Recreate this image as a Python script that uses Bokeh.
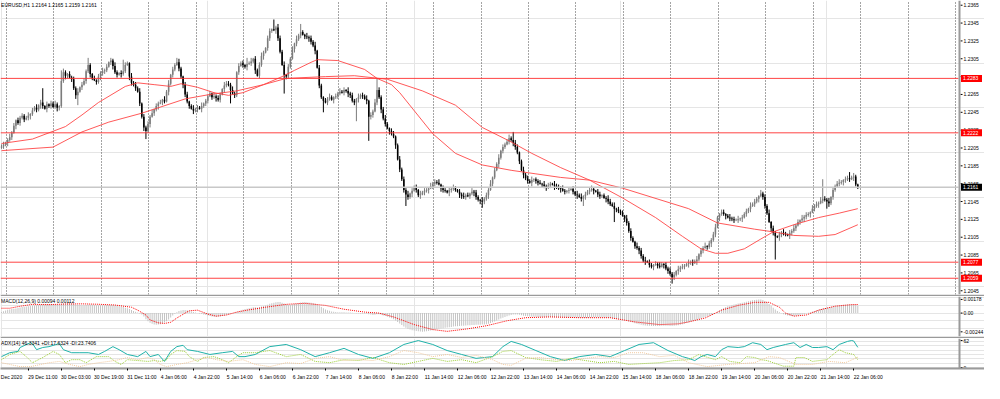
from bokeh.plotting import figure
from bokeh.layouts import column
from bokeh.models import (ColumnDataSource, LinearAxis, FixedTicker, Label, Span,
                          Grid, Range1d)
from bokeh.core.properties import value
from bokeh.embed import file_html
from bokeh.resources import INLINE

FONT = "Liberation Sans"
FS = "5px"

# ---------------- data (prices in pips above 1.2000) ----------------
BASE = 1.2
OPEN0 = 205
CLOSE_PIPS = [
    207, 209, 211, 214, 217, 222, 230, 236, 233, 239,
    241, 237, 239, 241, 243, 247, 250, 248, 253, 256,
    252, 249, 254, 252, 255, 251, 254, 250, 252, 280,
    290, 286, 288, 284, 282, 272, 264, 268, 273, 276,
    280, 291, 298, 288, 283, 281, 279, 285, 289, 291,
    292, 296, 301, 303, 297, 290, 287, 289, 288, 291,
    298, 300, 285, 278, 276, 272, 268, 255, 240, 228,
    224, 232, 240, 244, 248, 252, 255, 256, 259, 257,
    268, 277, 287, 293, 298, 301, 294, 285, 276, 265,
    257, 252, 249, 247, 248, 250, 249, 252, 255, 258,
    263, 266, 262, 263, 261, 259, 265, 271, 275, 277,
    276, 270, 266, 264, 290, 297, 300, 298, 296, 299,
    300, 302, 305, 292, 286, 298, 308, 312, 317, 328,
    336, 338, 337, 340, 328, 313, 298, 287, 285, 296,
    305, 316, 322, 327, 331, 335, 332, 330, 329, 328,
    324, 320, 314, 295, 275, 262, 258, 256, 260, 262,
    259, 262, 263, 266, 268, 267, 270, 269, 266, 264,
    258, 256, 260, 262, 264, 263, 260, 258, 240, 242,
    246, 256, 270, 262, 248, 238, 232, 227, 224, 221,
    218, 208, 192, 181, 170, 158, 153, 150, 154, 157,
    161, 158, 152, 153, 155, 157, 158, 160, 162, 165,
    167, 166, 164, 160, 158, 157, 155, 158, 159, 160,
    158, 156, 153, 151, 150, 152, 151, 154, 156, 155,
    150, 147, 146, 145, 148, 152, 158, 165, 172, 180,
    187, 194, 202, 206, 209, 212, 216, 214, 211, 206,
    200, 190, 180, 175, 171, 168, 166, 169, 170, 168,
    166, 165, 164, 162, 161, 163, 165, 164, 162, 161,
    160, 159, 157, 156, 157, 158, 159, 156, 153, 152,
    150, 148, 151, 153, 156, 158, 159, 157, 156, 153,
    151, 152, 149, 148, 145, 142, 140, 137, 136, 134,
    132, 129, 126, 121, 112, 104, 100, 95, 93, 90,
    84, 79, 78, 77, 74, 72, 74, 75, 73, 72,
    75, 74, 70, 67, 64, 60, 63, 67, 69, 71,
    72, 73, 75, 76, 77, 76, 78, 80, 86, 90,
    93, 95, 94, 98, 102, 108, 116, 127, 131, 133,
    131, 129, 127, 126, 125, 124, 124, 125, 126, 127,
    131, 134, 137, 140, 142, 145, 148, 151, 154, 150,
    140, 132, 122, 115, 110, 106, 105, 108, 110, 109,
    108, 107, 110, 112, 115, 118, 122, 124, 126, 128,
    130, 131, 133, 137, 140, 142, 143, 146, 148, 147,
    145, 143, 150, 158, 162, 165, 166, 167, 169, 170,
    171, 170, 172, 173, 164, 161,
]
UP_WICK_ROWS = [
    "2312423132", "3224132413", "2131324213", "4213232413", "3242131324",
    "2313242132", "3214232413", "2324132314", "2413234213", "3124232412",
    "2314232143", "3242132314", "2413234213", "3122432413", "2314232142",
    "3241321324", "2132423142", "3214232413", "2413234213", "3124232413",
    "2314232142", "3241321324", "2132423142", "3214232413", "2413234213",
    "3124232412", "2314232143", "3242132314", "2413234213", "3122432413",
    "2314232142", "3241321324", "2132423142", "3214232413", "2413234213",
    "3124232413", "2314232142", "3241321324", "2132423142", "3214232413",
    "2413234213", "312421",
]
LOW_WICK_ROWS = [
    "1324231423", "2313421324", "3142312432", "2431324213", "1324213243",
    "3213423142", "2143231324", "3241324132", "1423213243", "2314231423",
    "3132423142", "2413231324", "1324132413", "3214321432", "2143231324",
    "3241324132", "1423213243", "2314231423", "3132423142", "2413231324",
    "1324132413", "3214321432", "2143231324", "3241324132", "1423213243",
    "2314231423", "3132423142", "2413231324", "1324132413", "3214321432",
    "2143231324", "3241324132", "1423213243", "2314231423", "3132423142",
    "2413231324", "1324132413", "3214321432", "2143231324", "3241324132",
    "1423213243", "231422",
]
HIGH_SPIKES = {20: 272, 29: 292, 42: 306, 59: 304, 85: 306, 119: 306, 132: 349,
               145: 344, 182: 283, 248: 223, 398: 170, 411: 178}
LOW_SPIKES = {37: 253, 70: 215, 111: 255, 137: 266, 156: 245, 172: 235, 178: 213,
              196: 140, 233: 138, 282: 140, 297: 122, 325: 53, 375: 80, 400: 137}

FAST_MA_BARS = [0, 15, 31, 39, 47, 60, 66, 74, 82, 87, 95, 103, 110, 117, 127, 136, 142, 150,
                153, 163, 176, 182, 189, 193, 209, 220, 233, 247, 259, 271, 285, 301, 317,
                330, 339, 346, 352, 360, 368, 374, 384, 396, 406, 415]
FAST_MA_PIPS = [210, 215, 229, 242, 256, 274, 278, 276, 274, 277, 273, 267, 264, 267, 276, 285,
                292, 301, 304, 303, 293, 283, 276, 267, 221, 199, 186, 180, 176, 172, 169, 149,
                127, 106, 92, 87, 87, 92, 103, 111, 119, 127, 132, 137]
SLOW_MA_BARS = [0, 25, 39, 52, 68, 89, 101, 114, 127, 138, 157, 171, 187, 204, 220, 233, 246,
                257, 271, 285, 301, 333, 347, 365, 374, 384, 396, 404, 415]
SLOW_MA_PIPS = [202, 206, 223, 234, 244, 260, 265, 269, 276, 283, 285, 286, 282, 269, 253, 228,
                213, 199, 183, 169, 160, 137, 121, 114, 111, 107, 106, 108, 119]

LEVELS = [1.2283, 1.2222, 1.2077, 1.2059]
BID = 1.2161
PRICE_TICKS = [1.2045, 1.2065, 1.2085, 1.2105, 1.2125, 1.2145, 1.2165, 1.2185, 1.2205,
               1.2225, 1.2245, 1.2265, 1.2285, 1.2305, 1.2325, 1.2345, 1.2365]
MACD_TICKS = [0.00178, 0.0, -0.00244]
MACD_TICK_TEXT = ["0.00178", "0.00", "-0.00244"]
ADX_TICKS = [62, 0]
ADX_TICK_TEXT = ["62", "0"]

MACD_MAIN = [
    15, 25, 35, 42, 48, 52, 56, 60, 66, 72,
    78, 82, 85, 88, 92, 96, 100, 103, 106, 110,
    112, 113, 114, 114, 115, 114, 113, 112, 110, 118,
    124, 126, 127, 126, 124, 118, 110, 106, 104, 103,
    103, 106, 110, 110, 108, 105, 102, 101, 101, 102,
    103, 104, 106, 106, 104, 100, 95, 90, 85, 80,
    70, 62, 52, 40, 28, 16, 6, -4, -20, -45,
    -80, -105, -125, -140, -150, -152, -150, -145, -135, -122,
    -105, -82, -58, -32, -10, 10, 26, 35, 40, 40,
    36, 30, 22, 14, 6, 0, -6, -12, -18, -24,
    -30, -38, -44, -48, -50, -48, -44, -38, -30, -22,
    -14, -6, 0, 6, 14, 24, 34, 44, 52, 58,
    64, 70, 76, 76, 74, 78, 85, 92, 100, 110,
    120, 128, 135, 142, 145, 143, 135, 125, 115, 110,
    110, 115, 120, 126, 132, 138, 140, 141, 140, 138,
    135, 130, 124, 112, 96, 78, 62, 48, 38, 30,
    22, 18, 14, 12, 11, 10, 10, 9, 8, 6,
    4, 0, -2, -3, -4, -5, -6, -7, -14, -20,
    -24, -22, -16, -16, -22, -30, -38, -48, -58, -68,
    -80, -95, -115, -135, -155, -175, -192, -205, -215, -222,
    -228, -232, -236, -240, -244, -241, -236, -232, -228, -222,
    -216, -210, -205, -200, -196, -192, -188, -184, -180, -176,
    -172, -170, -168, -166, -164, -162, -160, -158, -156, -154,
    -152, -152, -152, -150, -148, -144, -138, -130, -120, -108,
    -96, -84, -72, -60, -50, -40, -32, -25, -20, -18,
    -18, -22, -28, -34, -38, -42, -45, -47, -48, -49,
    -50, -50, -51, -52, -52, -52, -52, -53, -53, -54,
    -54, -55, -56, -57, -57, -57, -57, -58, -59, -60,
    -61, -62, -62, -61, -60, -58, -56, -55, -54, -55,
    -56, -57, -58, -60, -62, -65, -68, -72, -76, -80,
    -84, -88, -93, -100, -108, -116, -124, -132, -140, -146,
    -152, -157, -161, -164, -166, -167, -168, -168, -168, -167,
    -166, -165, -165, -166, -167, -168, -166, -162, -157, -151,
    -145, -138, -130, -122, -114, -106, -98, -90, -80, -70,
    -60, -50, -42, -34, -24, -14, 0, 18, 36, 52,
    66, 78, 88, 96, 104, 112, 118, 124, 130, 136,
    142, 148, 154, 160, 166, 171, 175, 178, 176, 170,
    158, 140, 118, 94, 70, 48, 28, 12, -2, -14,
    -24, -32, -36, -38, -38, -36, -32, -26, -20, -12,
    -4, 4, 12, 20, 28, 36, 44, 52, 60, 66,
    70, 72, 78, 84, 90, 96, 100, 104, 107, 109,
    111, 112, 113, 112, 104, 94,
]
SIG_BARS = [0, 4, 9, 15, 23, 31, 39, 47, 55, 63, 66, 70, 72, 76, 79, 82, 85, 89, 91, 95,
            100, 104, 109, 114, 119, 128, 138, 147, 157, 166, 176, 183, 190, 200, 209, 216,
            226, 235, 245, 254, 266, 280, 295, 307, 319, 328, 333, 341, 349, 357, 365, 372,
            377, 380, 384, 390, 396, 404, 412, 415]
SIG_VALS = [63, 63, 89, 114, 110, 118, 120, 115, 105, 76, 38, -25, -89, -127, -135, -120, -64,
            0, 30, 38, -13, -40, -25, 13, 38, 76, 114, 127, 100, 50, 13, 0, -50, -150, -215,
            -238, -205, -165, -100, -60, -50, -60, -60, -115, -150, -140, -115, -64, 38, 100,
            140, 140, 76, 0, -40, -25, 38, 90, 110, 112]

ADX_BARS = [0, 4, 8, 9, 14, 15, 17, 20, 23, 28, 30, 34, 38, 42, 47, 50, 54, 57, 61, 66, 70, 72,
            76, 79, 82, 85, 88, 90, 95, 101, 107, 112, 115, 118, 123, 130, 138, 145, 152, 159,
            166, 173, 180, 188, 195, 202, 209, 216, 223, 230, 238, 243, 247, 252, 259, 266, 273,
            280, 288, 295, 302, 309, 316, 323, 330, 333, 336, 339, 342, 346, 349, 352, 357, 360,
            364, 368, 371, 374, 380, 384, 387, 390, 393, 396, 400, 403, 406, 410, 412, 413, 415]
ADX_VALS = [25, 34, 37, 46, 57, 55, 41, 46, 48, 55, 41, 34, 34, 34, 30, 37, 48, 41, 30, 25, 37,
            25, 30, 14, 37, 48, 51, 41, 37, 30, 34, 37, 25, 25, 30, 48, 53, 41, 25, 34, 44, 30,
            21, 34, 53, 62, 53, 39, 30, 21, 25, 48, 60, 53, 39, 25, 16, 25, 30, 25, 39, 53, 57,
            39, 25, 21, 16, 25, 30, 25, 41, 48, 46, 48, 57, 53, 41, 46, 53, 57, 46, 53, 46, 46,
            48, 41, 53, 60, 62, 61, 46.33]
PDI_BARS = [0, 4, 9, 12, 15, 20, 25, 28, 31, 34, 38, 41, 46, 52, 55, 58, 61, 66, 71, 74, 77, 80,
            82, 85, 89, 91, 95, 98, 103, 107, 110, 114, 117, 123, 130, 138, 145, 152, 159, 166,
            173, 180, 188, 195, 202, 209, 216, 223, 230, 238, 243, 247, 254, 261, 269, 276, 283,
            290, 297, 304, 311, 319, 326, 333, 338, 341, 346, 349, 353, 358, 361, 365, 368, 371,
            374, 379, 384, 385, 389, 393, 400, 403, 406, 409, 413, 415]
PDI_VALS = [18, 30, 37, 25, 11, 23, 37, 30, 11, 18, 18, 11, 25, 25, 14, 7, 18, 16, 14, 16, 14,
            18, 30, 39, 37, 25, 14, 23, 25, 18, 11, 25, 34, 34, 39, 25, 30, 14, 11, 18, 16, 23,
            11, 7, 14, 21, 14, 18, 11, 25, 37, 39, 23, 18, 14, 21, 16, 11, 14, 7, 9, 11, 16, 18,
            30, 25, 18, 25, 14, 11, 25, 23, 18, 16, 11, 3, 3, 23, 23, 14, 18, 30, 41, 34, 30,
            17.63]
MDI_BARS = [0, 4, 9, 14, 19, 23, 28, 33, 38, 42, 47, 52, 57, 61, 66, 71, 74, 77, 80, 85, 90, 95,
            100, 104, 110, 117, 123, 130, 138, 145, 152, 159, 166, 173, 180, 188, 195, 202, 209,
            216, 223, 230, 238, 243, 247, 254, 261, 269, 276, 283, 290, 297, 304, 311, 319, 326,
            333, 342, 352, 365, 372, 377, 385, 393, 401, 409, 415]
MDI_VALS = [11, 7, 2, 2, 7, 11, 14, 7, 2, 7, 11, 14, 18, 23, 18, 23, 18, 7, 2, 7, 11, 18, 23, 18,
            14, 18, 7, 2, 11, 9, 21, 25, 16, 18, 16, 25, 39, 34, 25, 30, 23, 28, 18, 7, 5, 21,
            23, 18, 16, 21, 25, 23, 34, 34, 25, 28, 11, 2, 7, 11, 25, 23, 7, 7, 14, 11, 23.74]

TIME_LABELS = ["Dec 2020", "29 Dec 11:00", "30 Dec 03:00", "30 Dec 19:00", "31 Dec 11:00",
               "4 Jan 06:00", "4 Jan 22:00", "5 Jan 14:00", "6 Jan 06:00", "6 Jan 22:00",
               "7 Jan 14:00", "8 Jan 06:00", "8 Jan 22:00", "11 Jan 14:00", "12 Jan 06:00",
               "12 Jan 22:00", "13 Jan 14:00", "14 Jan 06:00", "14 Jan 22:00", "15 Jan 14:00",
               "18 Jan 06:00", "18 Jan 22:00", "19 Jan 14:00", "20 Jan 06:00", "20 Jan 22:00",
               "21 Jan 14:00", "22 Jan 06:00"]
TIME_LABEL_BARS = [-3, 13, 29, 45, 61, 77, 93, 109, 125, 141, 157, 173, 189, 205, 221, 237,
                   253, 269, 285, 301, 317, 333, 349, 365, 381, 397, 413]

# ---------------- build candles ----------------
UP = [int(ch) for ch in "".join(UP_WICK_ROWS)]
LO = [int(ch) for ch in "".join(LOW_WICK_ROWS)]


def px(p):
    return BASE + p / 10000.0


xs, tops, bots, his, los, cols = [], [], [], [], [], []
prev = OPEN0
for i, c in enumerate(CLOSE_PIPS):
    o = prev
    h = max(o, c) + (UP[i] if i < len(UP) else 2)
    l = min(o, c) - (LO[i] if i < len(LO) else 2)
    if i in HIGH_SPIKES:
        h = max(h, HIGH_SPIKES[i])
    if i in LOW_SPIKES:
        l = min(l, LOW_SPIKES[i])
    t, b = max(o, c), min(o, c)
    if t - b < 0.6:
        t = b + 0.6
    xs.append(i)
    tops.append(px(t))
    bots.append(px(b))
    his.append(px(h))
    los.append(px(l))
    cols.append("#7c7c7c" if c >= o else "#000000")
    prev = c

candles = ColumnDataSource(dict(x=xs, top=tops, bot=bots, hi=his, lo=los, col=cols))

# ---------------- layout constants ----------------
W = 984
SCALE_W = 26                      # width of the price-scale strip (px)
X0 = -0.48
X_END = 463.8                     # last bar position at the price-scale border
PX_PER_BAR = (W - SCALE_W) / (X_END - X0)
PXB = 1.0 / PX_PER_BAR            # bars per pixel
XR = Range1d(X0, X_END + SCALE_W * PXB)
BORDER = "#9a9a9a"


def base_fig(h, yr, bottom, border_fill="white"):
    p = figure(width=W, height=h, x_range=XR, y_range=yr, output_backend="svg",
               toolbar_location=None, x_axis_location=None, y_axis_location=None,
               min_border_left=0, min_border_right=0, min_border_top=0,
               min_border_bottom=bottom, background_fill_color="white",
               border_fill_color=border_fill, outline_line_color=None)
    return p


def price_scale(p, ticks, texts):
    """Draw the MT4-style price scale strip right of the plotting area."""
    p.add_layout(Span(location=X_END + 1 * PXB, dimension="height", line_color=BORDER,
                      line_width=2))
    p.segment(x0=[X_END + 2 * PXB] * len(ticks), x1=[X_END + 4 * PXB] * len(ticks),
              y0=ticks, y1=ticks, line_color="#000000", line_width=1)
    p.text(x=[X_END + 5 * PXB] * len(ticks), y=ticks, text=texts, text_font=value(FONT),
           text_font_size=value(FS), text_color="#000000", text_baseline="middle",
           text_align="left")


def corner_text(p, text, ytop):
    p.add_layout(Label(x=X0 + 0.3, y=ytop, text=text, text_font=FONT, text_font_size=FS,
                       text_color="#000000", text_baseline="top", text_align="left",
                       y_offset=-1))


# ---------------- main price panel ----------------
Y_MAIN = Range1d(1.20408, 1.23703)
main = base_fig(296, Y_MAIN, 2, border_fill=BORDER)
GRID_BARS = [2.4 + 23 * k for k in range(21)]
main.add_layout(Grid(dimension=0, ticker=FixedTicker(ticks=GRID_BARS), grid_line_color="#4a4a4a",
                     grid_line_dash="1 2", grid_line_width=1))

main.segment(x0="x", y0="lo", x1="x", y1="hi", source=candles, line_color="col", line_width=1)
main.vbar(x="x", width=0.75, top="top", bottom="bot", source=candles, fill_color="col",
          line_color=None)

main.line(FAST_MA_BARS, [px(v) for v in FAST_MA_PIPS], line_color="#ff3c3c",
          line_width=1, line_alpha=0.85)
main.line(SLOW_MA_BARS, [px(v) for v in SLOW_MA_PIPS], line_color="#ff3c3c",
          line_width=1, line_alpha=0.85)

main.segment(x0=[X0], x1=[X_END], y0=[BID], y1=[BID], line_color="#c8c8c8", line_width=1.5)
main.segment(x0=[X0] * len(LEVELS), x1=[X_END] * len(LEVELS), y0=LEVELS, y1=LEVELS,
             line_color="#ff3030", line_width=1, line_alpha=0.9)

price_scale(main, PRICE_TICKS, [f"{t:.4f}" for t in PRICE_TICKS])

TAG_PRICES = LEVELS + [BID]
TAG_COLORS = ["#ff0000"] * len(LEVELS) + ["#000000"]
main.rect(x=[X_END + 13 * PXB] * len(TAG_PRICES), y=TAG_PRICES, width=21, height=7,
          width_units="screen", height_units="screen", fill_color=TAG_COLORS, line_color=None)
main.text(x=[X_END + 4.5 * PXB] * len(TAG_PRICES), y=TAG_PRICES,
          text=[f"{t:.4f}" for t in TAG_PRICES], text_font=value(FONT),
          text_font_size=value(FS), text_color="#ffffff", text_baseline="middle",
          text_align="left")

corner_text(main, "EURUSD,H1  1.2164 1.2165 1.2159 1.2161", Y_MAIN.end)

# ---------------- MACD panel ----------------
Y_MACD = Range1d(-0.00305, 0.00216)
macd = base_fig(42, Y_MACD, 2, border_fill=BORDER)
macd.vbar(x=list(range(len(MACD_MAIN))), width=0.45, top=[v * 1e-5 for v in MACD_MAIN],
          bottom=0, fill_color="#c0c0c0", line_color=None)
macd.line(SIG_BARS, [v * 1e-5 for v in SIG_VALS], line_color="#ff0000", line_width=1,
          line_dash="1 1")
price_scale(macd, MACD_TICKS, MACD_TICK_TEXT)
corner_text(macd, "MACD(12,26,9) 0.00094 0.00112", Y_MACD.end)

# ---------------- ADX panel ----------------
Y_ADX = Range1d(-2.3, 66.7)
adx = base_fig(45, Y_ADX, 15)
adx.line(ADX_BARS, ADX_VALS, line_color="#20b2aa", line_width=1)
adx.line(PDI_BARS, PDI_VALS, line_color="#9acd32", line_width=1, line_dash="1 1")
adx.line(MDI_BARS, MDI_VALS, line_color="#f0c89c", line_width=1, line_dash="1 1")
price_scale(adx, ADX_TICKS, ADX_TICK_TEXT)
corner_text(adx, "ADX(14) 46.3341 +DI:17.6324 -DI:23.7406", Y_ADX.end)

centers = [b + 0.59 * len(t) for b, t in zip(TIME_LABEL_BARS, TIME_LABELS)]
centers[0] = 4.85
tax = LinearAxis(ticker=FixedTicker(ticks=centers, minor_ticks=TIME_LABEL_BARS),
                 major_label_overrides=dict(zip(centers, TIME_LABELS)),
                 major_label_text_font=FONT, major_label_text_font_size=FS,
                 major_label_text_color="#000000", axis_line_color=BORDER, axis_line_width=2,
                 major_tick_line_color=None, major_tick_out=0, major_tick_in=0,
                 minor_tick_out=2, minor_tick_in=0, minor_tick_line_color="#000000",
                 major_label_standoff=3)
adx.add_layout(tax, "below")

layout = column(main, macd, adx)
open("out.html", "w").write(file_html(layout, INLINE))
